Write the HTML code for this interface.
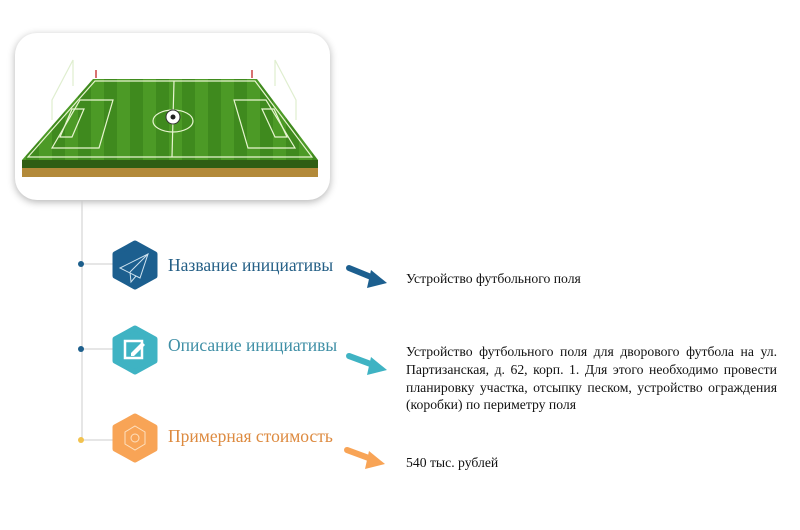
<!DOCTYPE html>
<html><head><meta charset="utf-8"><style>
body{margin:0;width:800px;height:530px;background:#fff;position:relative;overflow:hidden;font-family:"Liberation Serif",serif}
.card{position:absolute;left:15px;top:33px;width:315px;height:167px;border-radius:22px;background:#fff;box-shadow:0 2px 8px rgba(0,0,0,.3)}
.lbl{position:absolute;left:168px;font-size:17.5px}
.txt{position:absolute;left:406px;font-size:13.7px;color:#111;line-height:17.8px}
</style></head><body>
<div class="card"></div>
<svg width="800" height="530" style="position:absolute;left:0;top:0">
<defs><pattern id="st" width="26" height="10" patternUnits="userSpaceOnUse"><rect width="13" height="10" fill="#3f8a1e"/><rect x="13" width="13" height="10" fill="#4c9a26"/></pattern></defs>
<polygon points="22,167 318,167 318,177 22,177" fill="#b38a3a"/>
<polygon points="22,160 318,160 318,168 22,168" fill="#2f5e14"/>
<polygon points="93,79 257,79 318,160 22,160" fill="url(#st)"/>
<g stroke="#e8f5d0" stroke-width="1.2" fill="none">
<polygon points="95,81 255,81 312,157 28,157"/>
<line x1="174" y1="81" x2="172" y2="157"/>
<ellipse cx="173" cy="121" rx="20" ry="11"/>
<polygon points="80,100 113,100 99,148 52,148"/>
<polygon points="234,100 266,100 295,148 248,148"/>
<polygon points="72,109 84,109 72,137 60,137"/>
<polygon points="262,109 274,109 287,137 275,137"/>
<polyline points="73,86 73,60 52,100 52,120" stroke="#dfeecf"/>
<polyline points="275,86 275,60 296,100 296,120" stroke="#dfeecf"/>
</g>
<circle cx="173" cy="117" r="7" fill="#fff" stroke="#333" stroke-width="1"/>
<circle cx="173" cy="117" r="2.5" fill="#222"/>
<path d="M96 70v8M252 70v8" stroke="#c44" stroke-width="1.5"/>
<line x1="82" y1="200" x2="82" y2="440" stroke="#ccc" stroke-width="1"/>
<g stroke="#ccc"><line x1="82" y1="264" x2="113" y2="264"/><line x1="82" y1="349" x2="113" y2="349"/><line x1="82" y1="440" x2="113" y2="440"/></g>
<circle cx="81" cy="264" r="3" fill="#1d5f8c"/><circle cx="81" cy="349" r="3" fill="#1d5f8c"/><circle cx="81" cy="440" r="3" fill="#f2c24e"/>
<polygon points="135,243 155,254 155,276 135,287 115,276 115,254" fill="#1c5f8f" stroke="#1c5f8f" stroke-width="5" stroke-linejoin="round"/>
<polygon points="135,328 155,339 155,361 135,372 115,361 115,339" fill="#3fb3c3" stroke="#3fb3c3" stroke-width="5" stroke-linejoin="round"/>
<polygon points="135,416 155,427 155,449 135,460 115,449 115,427" fill="#f8a456" stroke="#f8a456" stroke-width="5" stroke-linejoin="round"/>
<g stroke="#cfe3f0" stroke-width="1" fill="none"><polygon points="120,268 148,254 140,278"/><line x1="130" y1="272" x2="148" y2="254"/><polyline points="130,272 131,282 136,276"/></g>
<rect x="125" y="341" width="17" height="17" fill="none" stroke="#fff" stroke-width="2.5"/>
<path d="M131 353l11-11 3 3-11 11h-3z" fill="#fff"/>
<g stroke="#fde0c0" fill="none"><polygon points="135,426 145,432 145,444 135,450 125,444 125,432"/><circle cx="135" cy="438" r="4"/></g>
<g stroke-linecap="round" stroke-width="6">
<line x1="349" y1="268" x2="376" y2="279" stroke="#1c5f8f"/>
<line x1="349" y1="356" x2="376" y2="366" stroke="#3fb3c3"/>
<line x1="347" y1="450" x2="374" y2="460" stroke="#f8a456"/>
</g>
<polygon points="371,270 387,283 367,288" fill="#1c5f8f"/>
<polygon points="371,357 387,370 367,375" fill="#3fb3c3"/>
<polygon points="369,451 385,464 365,469" fill="#f8a456"/>
</svg>
<div class="lbl" style="top:255px;color:#245f86">Название инициативы</div>
<div class="lbl" style="top:335px;color:#3f8fa6">Описание инициативы</div>
<div class="lbl" style="top:426px;color:#dd8a3f">Примерная стоимость</div>
<div class="txt" style="top:270px">Устройство футбольного поля</div>
<div class="txt" style="top:343px;width:371px;text-align:justify;text-align-last:left">Устройство футбольного поля для дворового футбола на ул. Партизанская, д. 62, корп. 1. Для этого необходимо провести планировку участка, отсыпку песком, устройство ограждения (коробки) по периметру поля</div>
<div class="txt" style="top:454px">540 тыс. рублей</div>
</body></html>
